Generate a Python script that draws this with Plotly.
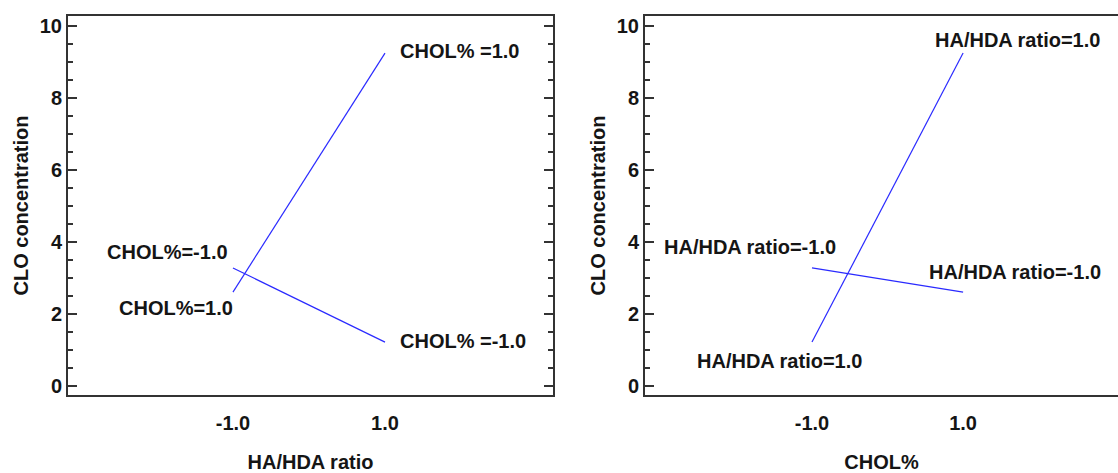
import plotly.graph_objects as go

# Factor levels (coded)
levels = [-1, 1]
level_text = ["-1.0", "1.0"]

# CLO concentration
# conc at HA/HDA ratio = -1 / +1, for CHOL% = +1 and CHOL% = -1
chol_plus = [2.61, 9.25]    # CHOL% = 1.0, x = HA/HDA ratio
chol_minus = [3.28, 1.22]   # CHOL% = -1.0, x = HA/HDA ratio
# conc at CHOL% = -1 / +1, for HA/HDA ratio = +1 and -1
ha_plus = [1.22, 9.25]      # HA/HDA ratio = 1.0, x = CHOL%
ha_minus = [3.28, 2.61]     # HA/HDA ratio = -1.0, x = CHOL%

y_ticks = [0, 2, 4, 6, 8, 10]

FONT = "Liberation Sans, Arial, sans-serif"
TXT = "#151515"
BLUE = "#2a2aff"
AX = "#333333"

fig = go.Figure()
fig.add_trace(go.Scatter(x=levels, y=chol_plus, mode="lines", line=dict(color=BLUE, width=1.2),
                         xaxis="x", yaxis="y", showlegend=False, hoverinfo="skip"))
fig.add_trace(go.Scatter(x=levels, y=chol_minus, mode="lines", line=dict(color=BLUE, width=1.2),
                         xaxis="x", yaxis="y", showlegend=False, hoverinfo="skip"))
fig.add_trace(go.Scatter(x=levels, y=ha_plus, mode="lines", line=dict(color=BLUE, width=1.2),
                         xaxis="x2", yaxis="y2", showlegend=False, hoverinfo="skip"))
fig.add_trace(go.Scatter(x=levels, y=ha_minus, mode="lines", line=dict(color=BLUE, width=1.2),
                         xaxis="x2", yaxis="y2", showlegend=False, hoverinfo="skip"))

tickfont = dict(family=FONT, size=20, color=TXT, weight="bold")
titlefont = dict(family=FONT, size=20, color=TXT, weight="bold")

W, H = 1118, 473
yd = [1 - 395 / H, 1 - 16 / H]

def xaxis(domain, title, rng):
    return dict(domain=domain, range=rng, tickvals=levels, ticktext=level_text,
                ticks="", showline=True, linecolor=AX, linewidth=2, mirror=True,
                showgrid=False, zeroline=False, tickfont=tickfont, ticklabelstandoff=9,
                automargin=False,
                title=dict(text=title, font=titlefont, standoff=22))

def yaxis(anchor, mirror):
    return dict(anchor=anchor, domain=yd, range=[-0.25, 10.28], tickvals=y_ticks,
                ticks="inside", ticklen=9, tickwidth=1.5, tickcolor=AX,
                minor=dict(dtick=0.5, ticks="inside", ticklen=5, tickwidth=1.5, tickcolor=AX),
                showline=True, linecolor=AX, linewidth=2, mirror=mirror,
                showgrid=False, zeroline=False, tickfont=tickfont, automargin=False,
                title=dict(text="CLO concentration", font=titlefont, standoff=6))

fig.update_layout(
    width=W, height=H, margin=dict(l=0, r=0, t=0, b=0, autoexpand=False),
    paper_bgcolor="white", plot_bgcolor="white",
    xaxis=xaxis([68 / W, 553 / W], "HA/HDA ratio", [-3.17, 3.21]),
    yaxis=yaxis("x", "ticks"),
    xaxis2=dict(xaxis([645 / W, 1.0], "CHOL%", [-3.21, 3.05]), anchor="y2"),
    yaxis2=yaxis("x2", False),
)

ann_font = dict(family=FONT, size=20, color=TXT, weight="bold")
anns = [
    ("x", "y", levels[1], chol_plus[1], "CHOL% =1.0", "left", 13, 2),
    ("x", "y", levels[1], chol_minus[1], "CHOL% =-1.0", "left", 13, 1),
    ("x", "y", levels[0], chol_minus[0], "CHOL%=-1.0", "right", -3, 16),
    ("x", "y", levels[0], chol_plus[0], "CHOL%=1.0", "right", 2, -16),
    ("x2", "y2", levels[1], ha_plus[1], "HA/HDA ratio=1.0", "left", -30, 13),
    ("x2", "y2", levels[1], ha_minus[1], "HA/HDA ratio=-1.0", "left", -36, 20),
    ("x2", "y2", levels[0], ha_minus[0], "HA/HDA ratio=-1.0", "right", 26, 21),
    ("x2", "y2", levels[0], ha_plus[0], "HA/HDA ratio=1.0", "left", -117, -19),
]
for xr, yr, x, y, t, xa, xs, ys in anns:
    fig.add_annotation(xref=xr, yref=yr, x=x, y=y, text=t, showarrow=False,
                       xanchor=xa, yanchor="middle", xshift=xs, yshift=ys, font=ann_font)

fig.write_html("out.html", config={"displayModeBar": False},
               post_script="document.body.style.margin='0';document.body.style.overflow='hidden';")
